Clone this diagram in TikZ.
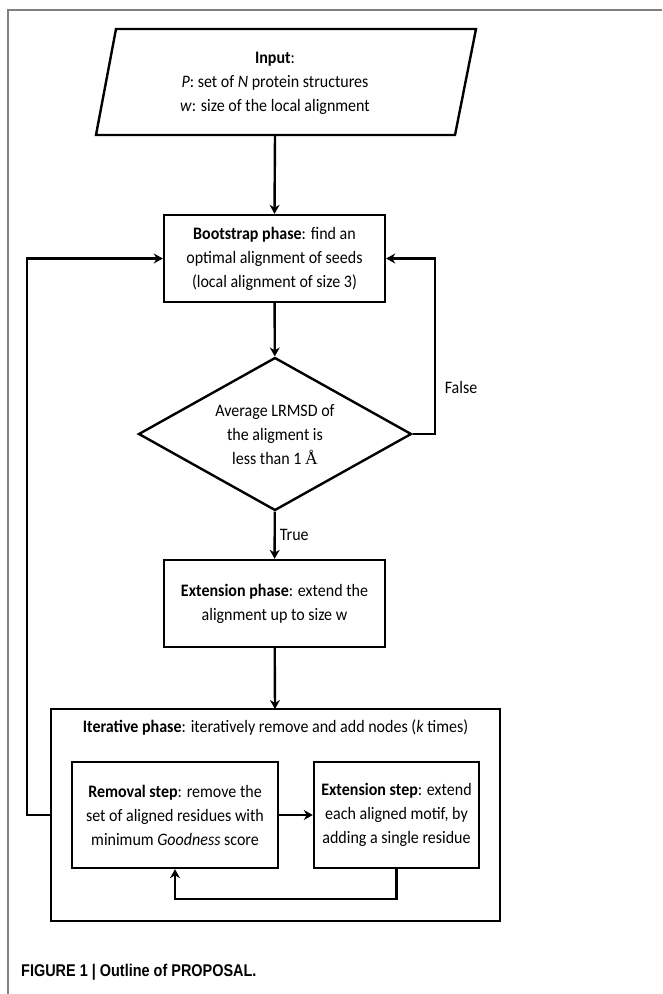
\documentclass[tikz,border=0pt]{standalone}
\usepackage{fontspec}
\setmainfont[FakeStretch=0.915]{Carlito}
\newfontfamily\capfont[FakeStretch=0.85]{Liberation Sans}
\newfontfamily\aafont{Liberation Serif}
\usetikzlibrary{shapes.geometric,arrows.meta}

\begin{document}
\begin{tikzpicture}[x=1pt,y=-1pt,>={Stealth[length=9pt,width=10pt]},line width=2.4pt,
  font=\fontsize{17.5}{24}\selectfont,
  phase/.style={draw,rectangle,minimum width=221pt,minimum height=87pt,align=center},
  stepbox/.style={draw,rectangle,minimum height=106pt,align=center},
  testbox/.style={draw,diamond,minimum width=273pt,minimum height=153pt,inner sep=0pt},
  txt/.style={align=center,inner sep=0pt}]
  \useasboundingbox (0,0) rectangle (662,994);
  % The page frame
  \draw[gray,line width=1.5pt] (8,994) -- (8,10) -- (662,10);
  % The input
  \draw (96,135) -- (116,29) -- (476,29) -- (455,135) -- cycle;
  \coordinate (inpS) at (275,135);
  \node[txt] (inptxt) at (275,83)
    {\textbf{Input}:\\ \textit{P}: set of \textit{N} protein structures\\ \textit{w}: size of the local alignment};
  % The phases
  \node[phase] (boot) at (274.5,258.5)
    {\textbf{Bootstrap phase}: find an\\ optimal alignment of seeds\\ (local alignment of size 3)};
  \node[testbox] (dec) at (275,434) {};
  \node[txt] (dectxt) at (275,435) {Average LRMSD of\\ the aligment is\\ less than 1 {\aafont Å}};
  \node[phase] (ext) at (274.5,603.5) {\textbf{Extension phase}: extend the\\ alignment up to size w};
  \draw (51,709) rectangle (500,921);
  \coordinate (iterW) at (51,815);
  \coordinate (iterN) at (275,709);
  \node[txt] (itertxt) at (275.5,727) {\textbf{Iterative phase}: iteratively remove and add nodes (\textit{k} times)};
  \node[stepbox,minimum width=206pt] (rem) at (175,815)
    {\textbf{Removal step}: remove the\\ set of aligned residues with\\ minimum \textit{Goodness} score};
  \node[stepbox,minimum width=165pt] (exs) at (396.5,815)
    {\textbf{Extension step}: extend\\ each aligned motif, by\\ adding a single residue};
  % The arrows
  \draw[->] (inpS) -- (boot.north);
  \draw[->] (boot) -- (dec);
  \draw[->] (dec) -- node[right=4pt,txt] (truelbl) {True} (ext);
  \draw[->] (dec.east) -- (435,434) |- (boot.east);
  \node[txt] (falselbl) at (461,387) {False};
  \draw[->] (ext) -- (iterN);
  \draw[->] (rem) -- (exs);
  \draw[->] (exs.south) -- ++(0,30) -| (rem.south);
  \draw[->] (iterW) -- (27,815) |- (boot.west);
  % The caption
  \node[anchor=west,inner sep=0pt,font=\capfont\fontsize{17}{20}\selectfont\bfseries] (cap) at (20,972)
    {FIGURE 1 | Outline of PROPOSAL.};
\end{tikzpicture}
\end{document}
